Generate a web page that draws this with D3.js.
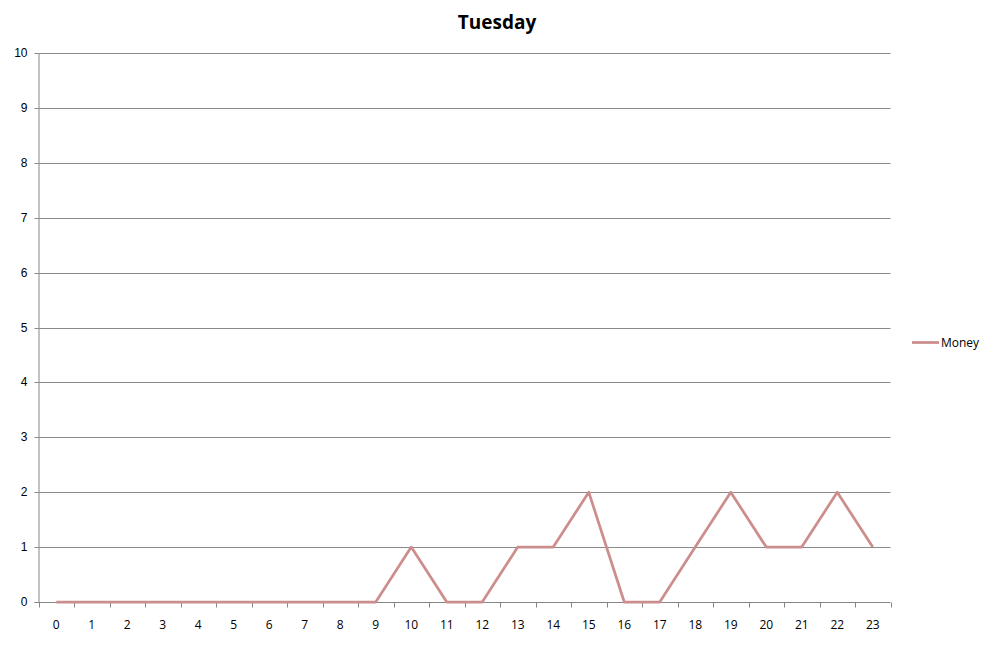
<!DOCTYPE html>
<html lang="en">
<head>
    <meta charset="UTF-8">
    <title>Tuesday</title>
    <script src="https://d3js.org/d3.v7.min.js"></script>
</head>
<style>
    body { margin: 0; padding: 0; background: #fff; }
    svg { display: block; font-family: "Open Sans", "Liberation Sans", sans-serif; }
    .grid line { stroke: #8a8a8a; stroke-width: 1px; }
    .axis path, .axis line { stroke: #868686; }
    .axis text { font-size: 12px; fill: #000; }
</style>
<body>
<div class="chart"></div>
<script>
  /** chart data */
  var hours = d3.range(0, 24).map(String);
  var money = [0, 0, 0, 0, 0, 0, 0, 0, 0, 0, 1, 0, 0, 1, 1, 2, 0, 0, 1, 2, 1, 1, 2, 1];
  var yTicks = [0, 1, 2, 3, 4, 5, 6, 7, 8, 9, 10];
  var seriesName = 'Money';
  var chartTitle = 'Tuesday';

  var width = 991, height = 645;
  var plotLeft = 38.5, plotRight = 890.5, plotTop = 53, plotBottom = 602;

  var svg = d3.select('.chart').append('svg')
    .attr('width', width)
    .attr('height', height);

  /** category scale for the hours, linear scale for the values */
  var x = d3.scaleBand().domain(hours).range([plotLeft, plotRight]);
  var y = d3.scaleLinear().domain([0, 10]).range([plotBottom, plotTop]);

  /** horizontal gridlines */
  svg.append('g')
    .classed('grid', true)
    .selectAll('line')
    .data(yTicks.filter(function (d) { return d > 0; }))
    .enter().append('line')
    .attr('x1', plotLeft)
    .attr('x2', plotRight)
    .attr('y1', function (d) { return Math.round(y(d)) + 0.5; })
    .attr('y2', function (d) { return Math.round(y(d)) + 0.5; });

  /** y axis */
  var yAxis = svg.append('g')
    .classed('axis', true)
    .attr('transform', 'translate(' + plotLeft + ',0)')
    .call(d3.axisLeft(y).tickValues(yTicks).tickSize(4).tickPadding(7).tickSizeOuter(0));
  yAxis.selectAll('.tick').attr('transform', function (d) {
    return 'translate(0,' + (Math.round(y(d)) + 0.5) + ')';
  });

  /** x axis: ticks sit between the categories */
  var xAxisG = svg.append('g')
    .classed('axis', true)
    .attr('transform', 'translate(0,' + (plotBottom + 0.5) + ')');
  xAxisG.append('line')
    .attr('x1', plotLeft - 4).attr('x2', plotRight);
  xAxisG.selectAll('.sep')
    .data(d3.range(0, hours.length + 1))
    .enter().append('line')
    .attr('x1', function (i) { return Math.round(plotLeft + i * x.bandwidth()) + 0.5; })
    .attr('x2', function (i) { return Math.round(plotLeft + i * x.bandwidth()) + 0.5; })
    .attr('y1', 0).attr('y2', 5);
  xAxisG.selectAll('text')
    .data(hours)
    .enter().append('text')
    .attr('x', function (d) { return x(d) + x.bandwidth() / 2; })
    .attr('y', 26)
    .attr('text-anchor', 'middle')
    .text(function (d) { return d; });

  /** the series line */
  var line = d3.line()
    .x(function (d, i) { return x(hours[i]) + x.bandwidth() / 2; })
    .y(function (d) { return y(d); });

  svg.append('path')
    .datum(money)
    .attr('d', line)
    .attr('fill', 'none')
    .attr('stroke', '#cc8e8d')
    .attr('stroke-width', 2.75)
    .attr('stroke-linejoin', 'round');

  /** title */
  svg.append('text')
    .attr('x', 497)
    .attr('y', 29)
    .attr('text-anchor', 'middle')
    .style('font-size', '19px')
    .style('font-weight', 'bold')
    .text(chartTitle);

  /** legend */
  var legend = svg.append('g').attr('transform', 'translate(912,342.5)');
  legend.append('line')
    .attr('x1', 0).attr('x2', 27)
    .attr('stroke', '#cc8e8d')
    .attr('stroke-width', 2.75);
  legend.append('text')
    .attr('x', 29)
    .attr('y', 4.5)
    .style('font-size', '12px')
    .text(seriesName);
</script>
</body>
</html>
